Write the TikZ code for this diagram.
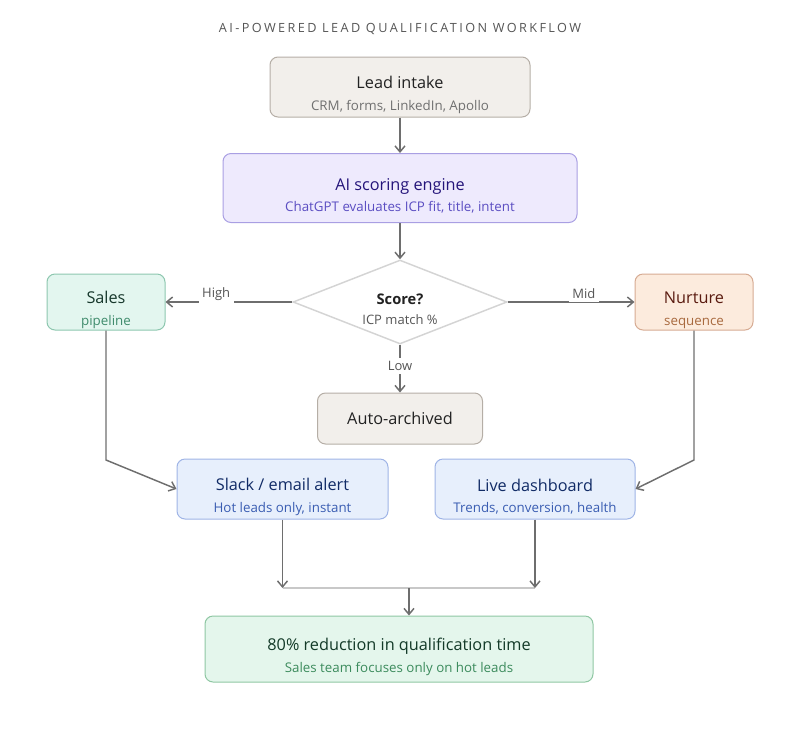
\documentclass[tikz,border=0pt]{standalone}
\usepackage{fontspec}
\setmainfont{Open Sans}
\newfontfamily\trackfont[LetterSpace=19]{Open Sans}
\usetikzlibrary{arrows.meta,shapes.geometric}

\definecolor{arrowgray}{HTML}{6E6E6E}
\definecolor{joingray}{HTML}{C8C8C8}
\definecolor{titlegray}{HTML}{555555}
\definecolor{labelgray}{HTML}{555555}
\definecolor{diamondgray}{HTML}{D4D4D4}
\definecolor{sandfill}{HTML}{F2EFEB}
\definecolor{sanddraw}{HTML}{B5AEA6}
\definecolor{sandtext}{HTML}{222222}
\definecolor{sandsub}{HTML}{707070}
\definecolor{lilacfill}{HTML}{EEEAFD}
\definecolor{lilacdraw}{HTML}{A99FE3}
\definecolor{lilactext}{HTML}{24147A}
\definecolor{lilacsub}{HTML}{5B4EC2}
\definecolor{mintfill}{HTML}{E3F6EF}
\definecolor{mintdraw}{HTML}{8DC7AF}
\definecolor{minttext}{HTML}{17382C}
\definecolor{mintsub}{HTML}{3F8B6C}
\definecolor{peachfill}{HTML}{FCEBDD}
\definecolor{peachdraw}{HTML}{D6AB93}
\definecolor{peachtext}{HTML}{5A1B10}
\definecolor{peachsub}{HTML}{A8693E}
\definecolor{skyfill}{HTML}{E7EFFC}
\definecolor{skydraw}{HTML}{9FB4E6}
\definecolor{skytext}{HTML}{112B66}
\definecolor{skysub}{HTML}{3A5DB2}
\definecolor{resfill}{HTML}{E4F6EC}
\definecolor{resdraw}{HTML}{8FC7A3}
\definecolor{restext}{HTML}{133A28}
\definecolor{ressub}{HTML}{3C8B5D}

\newcommand{\boxtitle}[2]{{\color{#1}\fontsize{12.2}{16}\selectfont #2}}
\newcommand{\twoline}[4]{\rule{0pt}{21pt}\boxtitle{#1}{#2}\\{\color{#3}#4}}

\begin{document}
\begin{tikzpicture}[x=0.75pt,y=-0.75pt,->,>={Straight Barb[length=4.5pt,width=7.5pt]},
  line width=1.1pt,draw=arrowgray,
  box node/.style={rectangle,rounded corners=6pt,draw,line width=0.75pt,align=center,
    inner sep=0pt,font=\fontsize{10}{16}\selectfont},
  box size/.style 2 args={minimum width=#1*0.75pt,minimum height=#2*0.75pt},
  sand node/.style={box node,fill=sandfill,draw=sanddraw},
  lilac node/.style={box node,fill=lilacfill,draw=lilacdraw},
  mint node/.style={box node,fill=mintfill,draw=mintdraw},
  peach node/.style={box node,fill=peachfill,draw=peachdraw},
  sky node/.style={box node,fill=skyfill,draw=skydraw},
  result node/.style={box node,fill=resfill,draw=resdraw},
  decision node/.style={diamond,draw=diamondgray,fill=white,line width=1.1pt,inner sep=0pt,
    aspect=2.55,minimum width=214*0.75pt,minimum height=84*0.75pt,align=center,
    font=\fontsize{9.75}{15}\selectfont,text=labelgray},
  label node/.style={fill=white,inner sep=2.5pt,text=labelgray,font=\fontsize{9.75}{12}\selectfont}]

  \useasboundingbox (0,0) rectangle (800,729);

  \node[font=\trackfont\fontsize{9.5}{12}\selectfont,text=titlegray] (0) at (400,29)
    {AI-POWERED LEAD QUALIFICATION WORKFLOW};

  \node[sand node,box size={260}{60}] (1) at (400,87)
    {\twoline{sandtext}{Lead intake}{sandsub}{CRM, forms, LinkedIn, Apollo}};
  \node[lilac node,box size={354}{69}] (2) at (400,188)
    {\twoline{lilactext}{AI scoring engine}{lilacsub}{ChatGPT evaluates ICP fit, title, intent}};
  \node[decision node] (3) at (400,302)
    {\rule{0pt}{19pt}{\color{sandtext}\fontsize{11}{15}\selectfont\bfseries Score?}\\ICP match \%};
  \node[mint node,box size={118}{56}] (4) at (106,302)
    {\twoline{minttext}{Sales}{mintsub}{pipeline}};
  \node[peach node,box size={118}{56}] (5) at (694,302)
    {\twoline{peachtext}{Nurture}{peachsub}{sequence}};
  \node[sand node,box size={165}{51}] (6) at (400,418.5)
    {\boxtitle{sandtext}{Auto-archived}};
  \node[sky node,box size={211}{60}] (7) at (282.5,489)
    {\twoline{skytext}{Slack / email alert}{skysub}{Hot leads only, instant}};
  \node[sky node,box size={200}{60}] (8) at (535,489)
    {\twoline{skytext}{Live dashboard}{skysub}{Trends, conversion, health}};
  \node[result node,box size={388}{66}] (9) at (399,649)
    {\twoline{restext}{80\% reduction in qualification time}{ressub}{Sales team focuses only on hot leads}};

  \coordinate (c1) at (106,460);
  \coordinate (c2) at (694,460);
  \coordinate (c3) at (282.5,588);
  \coordinate (c4) at (535,588);
  \coordinate (c5) at (409,588);

  \path (1) edge (2)
        (2) edge (3)
        (3.west) edge node[label node,pos=0.6,yshift=6pt] {High} (4.east)
        (3.east) edge node[label node,pos=0.6,yshift=6pt] {Mid} (5.west)
        (3.south) edge node[label node,pos=0.45] {Low} (6.north);

  \draw (4) -- (c1) -- (7.west);
  \draw (5) -- (c2) -- (8.east);

  \draw[-,draw=joingray] (c3) -- (c4);
  \draw (7) -- (c3);
  \draw (8) -- (c4);
  \draw (c5) -- (c5 |- 9.north);
\end{tikzpicture}
\end{document}
